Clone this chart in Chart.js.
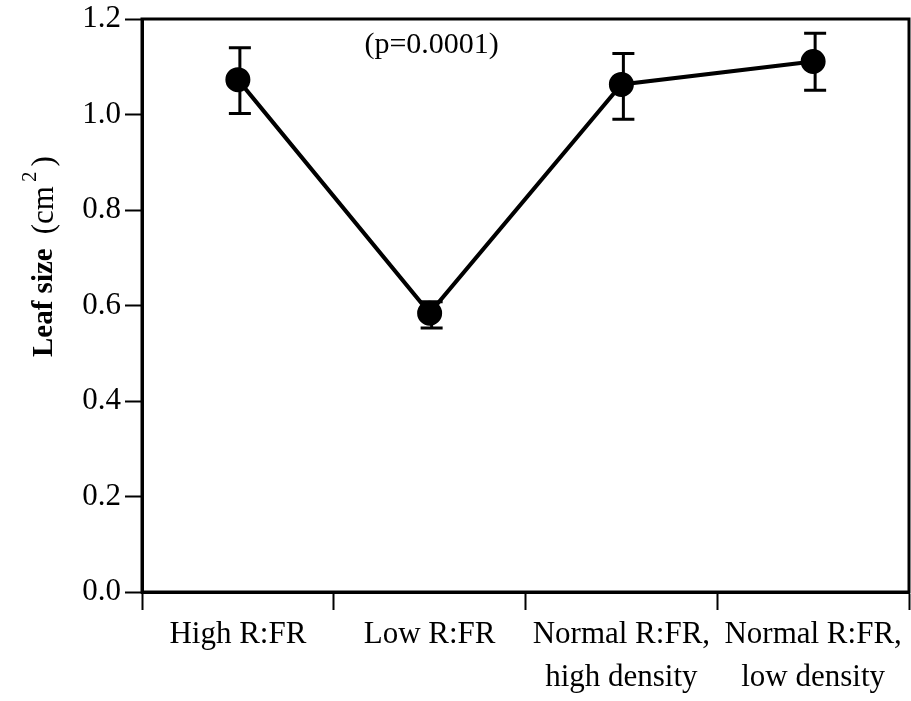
<!DOCTYPE html>
<html>
<head>
<meta charset="utf-8">
<script src="https://cdn.jsdelivr.net/npm/chart.js@4"></script>
<style>
  html, body { margin: 0; padding: 0; background: #fff; }
  #wrap { width: 911px; height: 701px; }
</style>
</head>
<body>
<div id="wrap"><canvas id="chart-1"></canvas></div>
<script>
let categories = [['High R:FR'], ['Low R:FR'], ['Normal R:FR,', 'high density'], ['Normal R:FR,', 'low density']];
let means = [1.073, 0.584, 1.063, 1.111];
let upper = [1.140, 0.608, 1.128, 1.170];
let lower = [1.002, 0.553, 0.990, 1.051];
let pLabel = '(p=0.0001)';

const serif = '"Liberation Serif", "Times New Roman", serif';

// error bars behind the dots, frame box, y title, p label
const extras = {
    id: 'extras',
    beforeDatasetsDraw(chart) {
        const ctx = chart.ctx;
        const x = chart.scales.x, y = chart.scales.y;
        ctx.save();
        ctx.strokeStyle = '#000';
        ctx.lineWidth = 3;
        means.forEach((m, i) => {
            let px = x.getPixelForValue(i) + 2;
            let top = y.getPixelForValue(upper[i]);
            let bot = y.getPixelForValue(lower[i]);
            ctx.beginPath();
            ctx.moveTo(px, top); ctx.lineTo(px, bot);
            ctx.moveTo(px - 11, top); ctx.lineTo(px + 11, top);
            ctx.moveTo(px - 11, bot); ctx.lineTo(px + 11, bot);
            ctx.stroke();
        });
        ctx.restore();
    },
    afterDraw(chart) {
        const ctx = chart.ctx;
        const a = chart.chartArea;
        ctx.save();
        ctx.strokeStyle = '#000';
        ctx.lineWidth = 3;
        ctx.strokeRect(a.left, a.top, a.right - a.left, a.bottom - a.top);

        // p value
        ctx.fillStyle = '#000';
        ctx.font = '30px ' + serif;
        ctx.textAlign = 'center';
        ctx.textBaseline = 'middle';
        ctx.fillText(pLabel, chart.scales.x.getPixelForValue(1) + 2, chart.scales.y.getPixelForValue(1.146));

        // y axis title: bold "Leaf size" then "(cm²)"
        ctx.translate(45, 357);
        ctx.rotate(-Math.PI / 2);
        ctx.textAlign = 'left';
        ctx.textBaseline = 'middle';
        ctx.font = 'bold 29px ' + serif;
        ctx.fillText('Leaf size', 0, 0);
        let w = ctx.measureText('Leaf size').width + 14;
        ctx.font = '31px ' + serif;
        ctx.fillText('(cm', w, 0);
        w += ctx.measureText('(cm').width + 4;
        ctx.font = '21px ' + serif;
        ctx.fillText('2', w, -15);
        w += ctx.measureText('2').width + 5;
        ctx.font = '31px ' + serif;
        ctx.fillText(')', w, 0);
        ctx.restore();
    }
};

let chart_1 = document.getElementById('chart-1');

new Chart(chart_1, {
    type: 'line',
    data: {
        labels: categories,
        datasets: [{
            data: means,
            borderColor: '#000',
            borderWidth: 4,
            backgroundColor: '#000',
            pointBackgroundColor: '#000',
            pointBorderColor: '#000',
            pointRadius: 10.5,
            tension: 0
        }]
    },
    options: {
        responsive: true,
        maintainAspectRatio: false,
        animation: false,
        layout: { autoPadding: false, padding: { top: 19, right: 2, left: 0, bottom: 0 } },
        plugins: {
            legend: { display: false },
            tooltip: { enabled: false }
        },
        scales: {
            x: {
                offset: true,
                grid: { offset: true, drawOnChartArea: false, tickLength: 18, tickWidth: 2, color: '#000' },
                border: { color: '#000', width: 3 },
                ticks: {
                    color: '#000',
                    font: { family: serif, size: 31, lineHeight: 1.4 },
                    padding: 3,
                    maxRotation: 0,
                    autoSkip: false
                },
                afterFit(scale) {
                    scale.height = 109;
                    scale.paddingLeft = 0;
                    scale.paddingRight = 0;
                }
            },
            y: {
                min: 0,
                max: 1.2,
                grid: { drawOnChartArea: false, tickLength: 17, tickWidth: 2, color: '#000' },
                border: { color: '#000', width: 3 },
                ticks: {
                    stepSize: 0.2,
                    color: '#000',
                    font: { family: serif, size: 31 },
                    padding: 4,
                    callback: v => v.toFixed(1)
                },
                afterFit(scale) {
                    scale.width = 142;
                    scale.paddingTop = 0;
                    scale.paddingBottom = 0;
                }
            }
        }
    },
    plugins: [extras]
});
</script>
</body>
</html>
